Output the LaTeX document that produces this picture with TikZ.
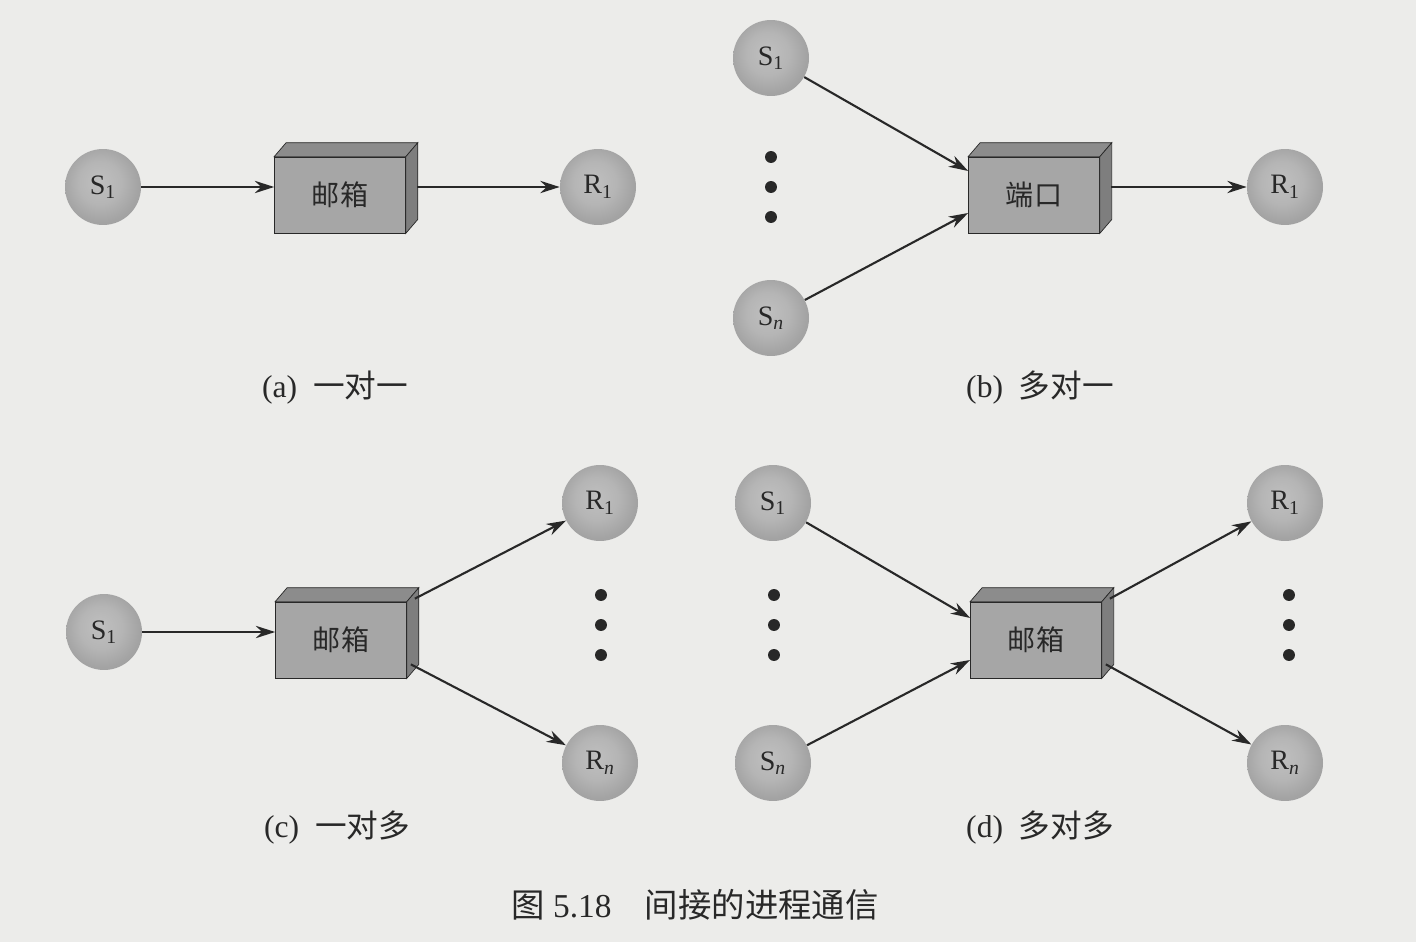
\documentclass[tikz,border=0pt]{standalone}
\usepackage{fontspec}
\setmainfont{Liberation Serif}
\newfontfamily\cjk{Noto Sans CJK SC}
\usetikzlibrary{arrows.meta,positioning}

\definecolor{paper}{RGB}{236,236,234}
\definecolor{ink}{RGB}{40,40,40}
\definecolor{frontgray}{RGB}{166,166,166}
\definecolor{topgray}{RGB}{140,140,140}
\definecolor{sidegray}{RGB}{126,126,126}
\pgfdeclareradialshading{procball}{\pgfpoint{-3bp}{4bp}}{%
  color(0bp)=(black!25); color(14bp)=(black!29); color(25bp)=(black!36); color(40bp)=(black!40); color(50bp)=(black!42)}

\tikzset{
  proc/.style={circle, minimum size=1.52cm, inner sep=0pt, shading=procball,
    text=ink, font=\fontsize{16}{18}\selectfont},
  mbox/.style={rectangle, draw=ink, fill=frontgray, minimum width=2.62cm,
    minimum height=1.52cm, text=ink, font=\cjk\fontsize{16}{18}\selectfont},
  topface/.style={fill=topgray, draw=ink},
  sideface/.style={fill=sidegray, draw=ink},
  msg/.style={->, draw=ink, line width=1.2pt},
  subcap/.style={text=ink, font=\fontsize{18}{21}\selectfont},
}

\begin{document}
\begin{tikzpicture}[x=0.02cm, y=-0.02cm, >={Stealth[length=11pt,width=7pt]}]
  % Paper
  \fill[paper] (0,0) rectangle (1416,942);

  % (a) one to one
  \node[proc] (s1a) at (103,187) {S\textsubscript{1}};
  \node[mbox] (boxa) at (340,195) {邮箱};
  \node[proc] (r1a) at (598,187) {R\textsubscript{1}};
  \node[subcap] (capa) at (335,388) {(a)\hspace{0.5em}{\cjk 一对一}};

  % (b) many to one
  \node[proc] (s1b) at (771,58) {S\textsubscript{1}};
  \node[proc] (snb) at (771,318) {S\textsubscript{\itshape n}};
  \node[mbox] (boxb) at (1034,195) {端口};
  \node[proc] (r1b) at (1285,187) {R\textsubscript{1}};
  \node[subcap] (capb) at (1040,388) {(b)\hspace{0.5em}{\cjk 多对一}};

  % (c) one to many
  \node[proc] (s1c) at (104,632) {S\textsubscript{1}};
  \node[mbox] (boxc) at (341,640) {邮箱};
  \node[proc] (r1c) at (600,503) {R\textsubscript{1}};
  \node[proc] (rnc) at (600,763) {R\textsubscript{\itshape n}};
  \node[subcap] (capc) at (337,828) {(c)\hspace{0.5em}{\cjk 一对多}};

  % (d) many to many
  \node[proc] (s1d) at (773,503) {S\textsubscript{1}};
  \node[proc] (snd) at (773,763) {S\textsubscript{\itshape n}};
  \node[mbox] (boxd) at (1036,640) {邮箱};
  \node[proc] (r1d) at (1285,503) {R\textsubscript{1}};
  \node[proc] (rnd) at (1285,763) {R\textsubscript{\itshape n}};
  \node[subcap] (capd) at (1040,828) {(d)\hspace{0.5em}{\cjk 多对多}};

  % Box tops and sides
  \foreach \b in {boxa,boxb,boxc,boxd} {
    \draw[topface] (\b.north west) -- ++(12,-14) -- ([shift={(12,-14)}]\b.north east)
      -- (\b.north east) -- cycle;
    \draw[sideface] (\b.north east) -- ++(12,-14) -- ([shift={(12,-14)}]\b.south east)
      -- (\b.south east) -- cycle;
  }

  % Dots
  \foreach \x/\y in {771/157,771/187,771/217} \fill[ink] (\x,\y) circle[radius=3.4pt];
  \foreach \x in {601,774,1289}
    \foreach \y in {595,625,655} \fill[ink] (\x,\y) circle[radius=3.4pt];

  % Messages
  \draw[msg] (s1a) -- (s1a -| boxa.west);
  \draw[msg] (r1a -| boxa.east) ++(11,0) -- (r1a);

  \draw[msg] (s1b) -- ([shift={(0,-24)}]boxb.west);
  \draw[msg] (snb) -- ([shift={(0,18)}]boxb.west);
  \draw[msg] (r1b -| boxb.east) ++(11,0) -- (r1b);

  \draw[msg] (s1c) -- (s1c -| boxc.west);
  \draw[msg] ([shift={(8,-3)}]boxc.north east) -- (r1c);
  \draw[msg] ([shift={(4,-14)}]boxc.south east) -- (rnc);

  \draw[msg] (s1d) -- ([shift={(0,-22)}]boxd.west);
  \draw[msg] (snd) -- ([shift={(0,20)}]boxd.west);
  \draw[msg] ([shift={(8,-3)}]boxd.north east) -- (r1d);
  \draw[msg] ([shift={(4,-14)}]boxd.south east) -- (rnd);

  % Title
  \node[subcap, font=\fontsize{19}{22}\selectfont] (title) at (695,905)
    {{\cjk 图}\ 5.18\quad{\cjk 间接的进程通信}};
\end{tikzpicture}
\end{document}
